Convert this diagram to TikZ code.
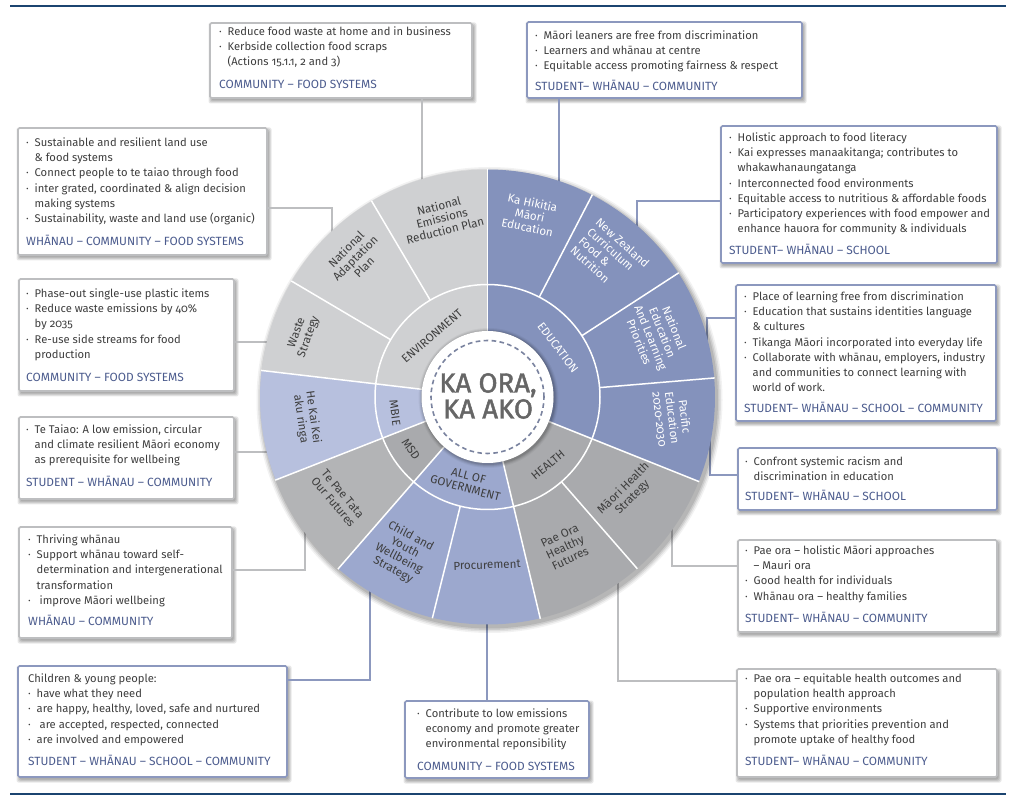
\documentclass[tikz,border=0pt]{standalone}
\usepackage{fontspec}
\setmainfont[Numbers=OldStyle]{Fira Sans}
\newfontfamily\hubfont[FakeBold=1.6]{Fira Sans}
\definecolor{navy}{HTML}{1B4470}
\definecolor{bluebox}{HTML}{8C98BE}
\definecolor{greybox}{HTML}{BDBEC0}
\definecolor{eduC}{HTML}{8492BC}
\definecolor{aogC}{HTML}{9CA8CE}
\definecolor{mbieC}{HTML}{B7C0DE}
\definecolor{envC}{HTML}{CFD0D2}
\definecolor{hlthC}{HTML}{A9AAAD}
\definecolor{msdC}{HTML}{B3B4B6}
\definecolor{txt}{HTML}{3E3E3E}
\definecolor{tagC}{HTML}{4C5C8E}
\definecolor{dashC}{HTML}{7A839F}
\newcommand\bl{\makebox[8.5pt][l]{·}}
\newcommand\il{\hspace*{8.5pt}}
\newcommand\panel[6]{%
  \foreach \e in {3,2,1,0}{\fill[black,opacity=.09,rounded corners=2pt] ({#2+1.5-\e},{#3+2.5-\e}) rectangle ({#4+1.5+\e},{#5+2.5+\e});}
  \node[panelbox,draw=#6,minimum width={(#4-#2)*1pt},minimum height={(#5-#3)*1pt}] (#1) at (#2,#3) {};}
\newcommand\sector[4]{\fill[#4] (#1:#2) arc[start angle=#1,end angle=#3,radius=#2] -- (#3:112.5) arc[start angle=#3,end angle=#1,radius=112.5] -- cycle;}
\newcommand\ringpart[3]{\fill[#3] (#1:112.5) arc[start angle=#1,end angle=#2,radius=112.5] -- (#2:66) arc[start angle=#2,end angle=#1,radius=66] -- cycle;}
\tikzset{
  panelbox/.style={anchor=north west,fill=white,line width=1.6pt,rounded corners=1.5pt,inner sep=0pt,outer sep=0pt},
  bodytext/.style={anchor=north west,inner sep=0pt,align=left,text=txt,yshift=5.5pt,font=\fontsize{11.2}{15.2}\selectfont,execute at begin node=\rule{0pt}{9pt}},
  tagtext/.style={anchor=base west,inner sep=0pt,text=tagC,yshift=-4pt,font=\fontsize{11.9}{13}\selectfont},
  linkB/.style={draw=bluebox,line width=1.6pt},
  linkG/.style={draw=greybox,line width=1.6pt},
  wheeldark/.style={align=center,text=txt,inner sep=0pt,font=\fontsize{11.6}{12.6}\selectfont},
  wheelwhite/.style={align=center,text=white,inner sep=0pt,font=\fontsize{11.6}{12.6}\selectfont},
  spoke/.style={draw=white,line width=1.5pt}
}
\begin{document}
\begin{tikzpicture}[x=1pt,y=-1pt]
\useasboundingbox (0,0) rectangle (1021,799);
\fill[white] (0,0) rectangle (1021,799);
% rules
\coordinate (rtl) at (10,6); \coordinate (rtr) at (1006,6);
\coordinate (rbl) at (10,794); \coordinate (rbr) at (1006,794);
\draw[navy,line width=1.6pt] (rtl) -- (rtr);
\draw[navy,line width=1.6pt] (rbl) -- (rbr);
% panels
\panel{b1}{210}{23}{472}{98}{greybox}
\panel{b2}{527}{22}{802}{98}{bluebox}
\panel{b3}{721}{126}{997}{263}{bluebox}
\panel{b4}{18}{128}{267}{255}{greybox}
\panel{b5}{19}{279}{234}{391}{greybox}
\panel{b6}{736}{285}{996}{421}{bluebox}
\panel{b7}{19}{417}{234}{499}{greybox}
\panel{b8}{738}{448}{997}{510}{bluebox}
\panel{b9}{19}{527}{232}{638}{greybox}
\panel{b10}{738}{540}{997}{632}{greybox}
\panel{b11}{18}{666}{287}{777}{bluebox}
\panel{b12}{405}{701}{589}{778}{bluebox}
\panel{b13}{737}{669}{997}{777}{greybox}
% connector ends and bends
\coordinate (e1) at (422,200);
\coordinate (e2) at (559,200);
\coordinate (e3) at (637,240); \coordinate (k3) at (637,201);
\coordinate (e4) at (332,240); \coordinate (k4) at (332,208);
\coordinate (e5) at (290,342);
\coordinate (e6) at (707,360); \coordinate (k6) at (707,318);
\coordinate (e7) at (290,452);
\coordinate (e8) at (710,420); \coordinate (k8) at (710,475);
\coordinate (e9) at (305,510); \coordinate (k9) at (305,570);
\coordinate (e10) at (672,510); \coordinate (k10) at (672,566);
\coordinate (e11) at (370,570); \coordinate (k11) at (370,680);
\coordinate (e12) at (487,600);
\coordinate (e13) at (618,560); \coordinate (k13) at (618,681);
\draw[linkG] (e1) -- (e1 |- b1.south);
\draw[linkB] (e2) -- (e2 |- b2.south);
\draw[linkB] (e3) -- (k3) -- (k3 -| b3.west);
\draw[linkG] (e4) -- (k4) -- (k4 -| b4.east);
\draw[linkG] (e5) -- (e5 -| b5.east);
\draw[linkB] (e6) -- (k6) -- (k6 -| b6.west);
\draw[linkG] (e7) -- (e7 -| b7.east);
\draw[linkB] (e8) -- (k8) -- (k8 -| b8.west);
\draw[linkG] (e9) -- (k9) -- (k9 -| b9.east);
\draw[linkG] (e10) -- (k10) -- (k10 -| b10.west);
\draw[linkB] (e11) -- (k11) -- (k11 -| b11.east);
\draw[linkB] (e12) -- (e12 |- b12.north);
\draw[linkG] (e13) -- (k13) -- (k13 -| b13.west);
% wheel
\begin{scope}[shift={(487.5,397)},y=1pt]
  \foreach \r/\o in {233/.05,231.5/.07,230/.09,228.5/.10}{\fill[black,opacity=\o] (2,-3) circle[radius=\r];}
  \sector{90}{227.5}{62.6}{eduC}
  \sector{62.6}{227.5}{33}{eduC}
  \sector{33}{227.5}{4.8}{eduC}
  \sector{4.8}{227.5}{-21.8}{eduC}
  \sector{-21.8}{227.5}{-48.9}{hlthC}
  \sector{-48.9}{227.5}{-76.6}{hlthC}
  \sector{-76.6}{227.5}{-104}{aogC}
  \sector{-104}{227.5}{-131}{aogC}
  \sector{-131}{227.5}{-158.6}{msdC}
  \sector{-158.6}{227.5}{-186.7}{mbieC}
  \sector{-186.7}{227.5}{-210.6}{envC}
  \sector{-210.6}{227.5}{-239.4}{envC}
  \sector{-239.4}{227.5}{-270}{envC}
  \ringpart{90}{-21.8}{eduC}
  \ringpart{-21.8}{-76.6}{hlthC}
  \ringpart{-76.6}{-131}{aogC}
  \ringpart{-131}{-158.6}{hlthC}
  \ringpart{-158.6}{-186.7}{mbieC}
  \ringpart{-186.7}{-270}{envC}
  \foreach \a in {62.6,33,4.8,-48.9,-104,149.4,120.6}{\draw[spoke] (\a:112.5) -- (\a:228);}
  \foreach \a in {90,-21.8,-76.6,-131,-158.6,173.3}{\draw[spoke] (\a:66) -- (\a:228);}
  \draw[spoke] (0,0) circle[radius=112.5];
  \foreach \r/\o in {70/.04,69/.06,68/.08,67/.10}{\fill[black,opacity=\o] (1,-1) circle[radius=\r];}
  \fill[white] (0,0) circle[radius=66];
  \draw[draw=dashC,line width=1.6pt,dash pattern=on 4.6pt off 3.4pt] (0,0) circle[radius=56.5];
\end{scope}
% wheel texts
\node[inner sep=0pt,align=center,text=black!60,font=\hubfont\fontsize{27.5}{26}\selectfont] (hub) at (488,396) {KA ORA,\\KA AKO};
\node[wheeldark,rotate=14] (s1) at (442,218) {National\\Emissions\\Reduction Plan};
\node[wheeldark,rotate=45] (s2) at (355,258) {National\\Adaptation\\Plan};
\node[wheeldark,rotate=70] (s3) at (303,335) {Waste\\Strategy};
\node[wheeldark,rotate=-82] (s4) at (307,418) {He Kai Kei\\aku ringa};
\node[wheeldark,rotate=-50] (s5) at (338,498) {Te Pae Tata\\Our Futures};
\node[wheeldark,rotate=-28] (s6) at (402,553) {Child and\\Youth\\Wellbeing\\Strategy};
\node[wheeldark,rotate=2] (s7) at (487,565) {Procurement};
\node[wheeldark,rotate=25] (s8) at (565,547) {Pae Ora\\Healthy\\Futures};
\node[wheeldark,rotate=45] (s9) at (628,493) {Māori Health\\Strategy};
\node[wheelwhite,rotate=-83] (s10) at (672,418) {Pacific\\Education\\2020-2030};
\node[wheelwhite,rotate=-68] (s11) at (657,335) {National\\Education\\And Learning\\Priorities};
\node[wheelwhite,rotate=-42,align=left] (s12) at (610,257) {New Zealand\\Curriculum\\Food \&\\Nutrition};
\node[wheelwhite,rotate=-12] (s13) at (530,215) {Ka Hikitia\\Māori\\Education};
\node[wheeldark,rotate=41] (r1) at (432,336) {ENVIRONMENT};
\node[wheelwhite,rotate=-53] (r2) at (558,348) {EDUCATION};
\node[wheeldark,rotate=40] (r3) at (548,465) {HEALTH};
\node[wheeldark,rotate=-15] (r4) at (467,482) {ALL OF\\GOVERNMENT};
\node[wheeldark,rotate=-55] (r5) at (411,449) {MSD};
\node[wheeldark,rotate=-82] (r6) at (395,413) {MBIE};
% panel texts
\node[bodytext] (t1) at (219,32) {\bl Reduce food waste at home and in business\\\bl Kerbside collection food scraps\\\il (Actions 15.1.1, 2 and 3)};
\node[tagtext] (g1) at (219,85) {COMMUNITY – FOOD SYSTEMS};
\node[bodytext] (t2) at (535,36) {\bl Māori leaners are free from discrimination\\\bl Learners and whānau at centre\\\bl Equitable access promoting fairness \& respect};
\node[tagtext] (g2) at (535,87) {STUDENT– WHĀNAU – COMMUNITY};
\node[bodytext] (t3) at (729,138) {\bl Holistic approach to food literacy\\\bl Kai expresses manaakitanga; contributes to\\\il whakawhanaungatanga\\\bl Interconnected food environments\\\bl Equitable access to nutritious \& affordable foods\\\bl Participatory experiences with food empower and\\\il enhance hauora for community \& individuals};
\node[tagtext] (g3) at (729,251) {STUDENT– WHĀNAU – SCHOOL};
\node[bodytext] (t4) at (26,143) {\bl Sustainable and resilient land use\\\il \& food systems\\\bl Connect people to te taiao through food\\\bl inter grated, coordinated \& align decision\\\il making systems\\\bl Sustainability, waste and land use (organic)};
\node[tagtext] (g4) at (26,242) {WHĀNAU – COMMUNITY – FOOD SYSTEMS};
\node[bodytext] (t5) at (26,294) {\bl Phase-out single-use plastic items\\\bl Reduce waste emissions by 40\%\\\il by 2035\\\bl Re-use side streams for food\\\il production};
\node[tagtext] (g5) at (26,378) {COMMUNITY – FOOD SYSTEMS};
\node[bodytext] (t6) at (744,297) {\bl Place of learning free from discrimination\\\bl Education that sustains identities language\\\il \& cultures\\\bl Tikanga Māori incorporated into everyday life\\\bl Collaborate with whānau, employers, industry\\\il and communities to connect learning with\\\il world of work.};
\node[tagtext] (g6) at (744,409) {STUDENT– WHĀNAU – SCHOOL – COMMUNITY};
\node[bodytext] (t7) at (26,430) {\bl Te Taiao: A low emission, circular\\\il and climate resilient Māori economy\\\il as prerequisite for wellbeing};
\node[tagtext] (g7) at (26,483) {STUDENT – WHĀNAU – COMMUNITY};
\node[bodytext] (t8) at (745,462) {\bl Confront systemic racism and\\\il discrimination in education};
\node[tagtext] (g8) at (745,497) {STUDENT– WHĀNAU – SCHOOL};
\node[bodytext] (t9) at (28,540) {\bl Thriving whānau\\\bl Support whānau toward self-\\\il determination and intergenerational\\\il transformation\\\bl\ improve Māori wellbeing};
\node[tagtext] (g9) at (28,621) {WHĀNAU – COMMUNITY};
\node[bodytext] (t10) at (745,551) {\bl Pae ora – holistic Māori approaches\\\il – Mauri ora\\\bl Good health for individuals\\\bl Whānau ora – healthy families};
\node[tagtext] (g10) at (745,618) {STUDENT– WHĀNAU – COMMUNITY};
\node[bodytext] (t11) at (28,679) {Children \& young people:\\\bl have what they need\\\bl are happy, healthy, loved, safe and nurtured\\\bl\ are accepted, respected, connected\\\bl are involved and empowered};
\node[tagtext] (g11) at (28,761) {STUDENT – WHĀNAU – SCHOOL – COMMUNITY};
\node[bodytext] (t12) at (417,714) {\bl Contribute to low emissions\\\il economy and promote greater\\\il environmental reponsibility};
\node[tagtext] (g12) at (417,766) {COMMUNITY – FOOD SYSTEMS};
\node[bodytext] (t13) at (745,679) {\bl Pae ora – equitable health outcomes and\\\il population health approach\\\bl Supportive environments\\\bl Systems that priorities prevention and\\\il promote uptake of healthy food};
\node[tagtext] (g13) at (745,761) {STUDENT– WHĀNAU – COMMUNITY};
\end{tikzpicture}
\end{document}
